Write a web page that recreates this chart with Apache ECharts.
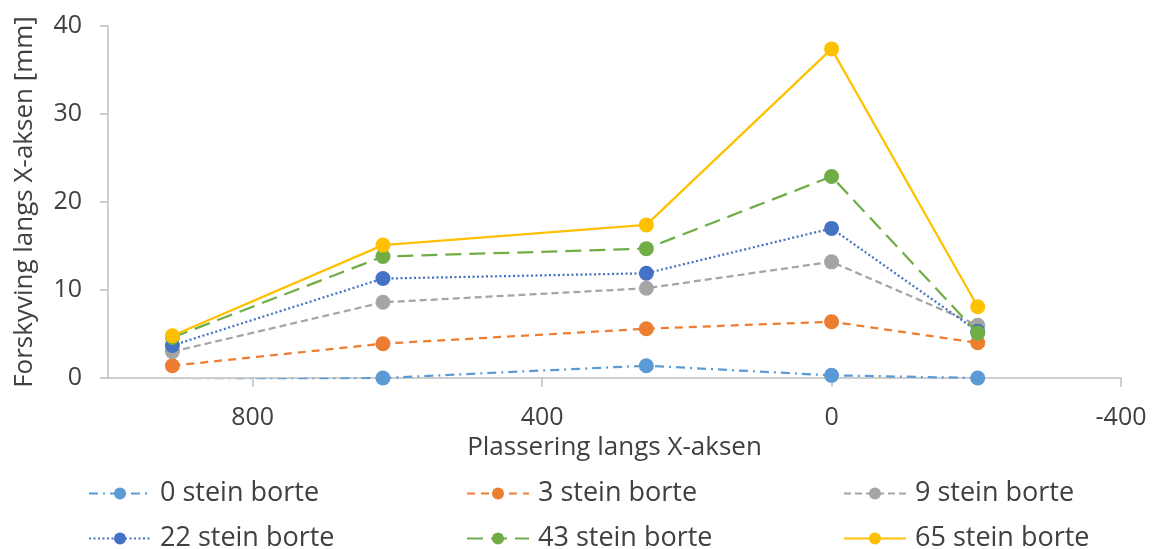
<!DOCTYPE html>
<html><head><meta charset="utf-8">
<script src="https://cdn.jsdelivr.net/npm/echarts@6/dist/echarts.min.js"></script>
<style>html,body{margin:0;padding:0;background:#fff}#c{width:1152px;height:549px}</style>
</head><body><div id="c"></div>
<script>
const xPositions = [911, 620, 256, 0, -202];
const seriesNames = ['0 stein borte','3 stein borte','9 stein borte','22 stein borte','43 stein borte','65 stein borte'];
const s0  = [-0.3, 0.0, 1.4, 0.3, 0.0];
const s3  = [1.4, 3.9, 5.6, 6.4, 4.0];
const s9  = [3.0, 8.6, 10.2, 13.2, 6.0];
const s22 = [3.7, 11.3, 11.9, 17.0, 5.3];
const s43 = [4.6, 13.8, 14.7, 22.9, 5.1];
const s65 = [4.8, 15.1, 17.4, 37.4, 8.1];
const yTicks = [0, 10, 20, 30, 40];
const xTicks = [-400, 0, 400, 800];

const values = [s0, s3, s9, s22, s43, s65];
const colors = ['#5B9BD5','#ED7D31','#A5A5A5','#4472C4','#70AD47','#FFC000'];
const dashes = [[9,5,2,5],[8,6],[7,4],[2,2.5],[16,8],'solid'];
const font = 'Open Sans, DejaVu Sans, sans-serif';

const series = values.map((v,i)=>({
  name: seriesNames[i], type:'line', clip:true,
  data: v.map((y,j)=>[xPositions[j], y]),
  symbol:'circle', symbolSize:15,
  itemStyle:{color:colors[i]},
  lineStyle:{color:colors[i], width:2.25, type:dashes[i]},
  z: 2 + i
}));

const legendPos = [[88,480],[466,480],[843,480],[88,525],[466,525],[843,525]];
const legends = seriesNames.map((n,i)=>({
  data:[n], left:legendPos[i][0], top:legendPos[i][1], padding:0,
  itemWidth:62, itemHeight:15, itemGap:10,
  textStyle:{fontSize:27, color:'#404040', fontFamily:font, padding:[0,0,0,4]}
}));

const chart = echarts.init(document.getElementById('c'));
chart.setOption({
  animation:false,
  backgroundColor:'#fff',
  grid:{left:108, right:31, top:26, bottom:171},
  legend: legends,
  xAxis:{type:'value', inverse:true, min:xTicks[0], max:1000, interval:400,
    name:'Plassering langs X-aksen', nameLocation:'middle', nameGap:54,
    nameTextStyle:{fontSize:26, color:'#404040', fontFamily:font},
    axisLine:{show:true, onZero:false, lineStyle:{color:'#BFBFBF', width:1.5}},
    axisTick:{show:true, length:9, lineStyle:{color:'#BFBFBF', width:1.5}},
    axisLabel:{fontSize:25, color:'#404040', margin:27, fontFamily:font, showMaxLabel:false},
    splitLine:{show:false}},
  yAxis:{type:'value', min:yTicks[0], max:yTicks[yTicks.length-1], interval:10,
    name:'Forskyving langs X-aksen [mm]', nameLocation:'middle', nameGap:70,
    nameTextStyle:{fontSize:26, color:'#404040', fontFamily:font},
    axisLine:{show:true, onZero:false, lineStyle:{color:'#BFBFBF', width:1.5}},
    axisTick:{show:true, length:8, lineStyle:{color:'#BFBFBF', width:1.5}},
    axisLabel:{fontSize:25, color:'#404040', margin:26, fontFamily:font},
    splitLine:{show:false}},
  series: series
});
</script></body></html>
